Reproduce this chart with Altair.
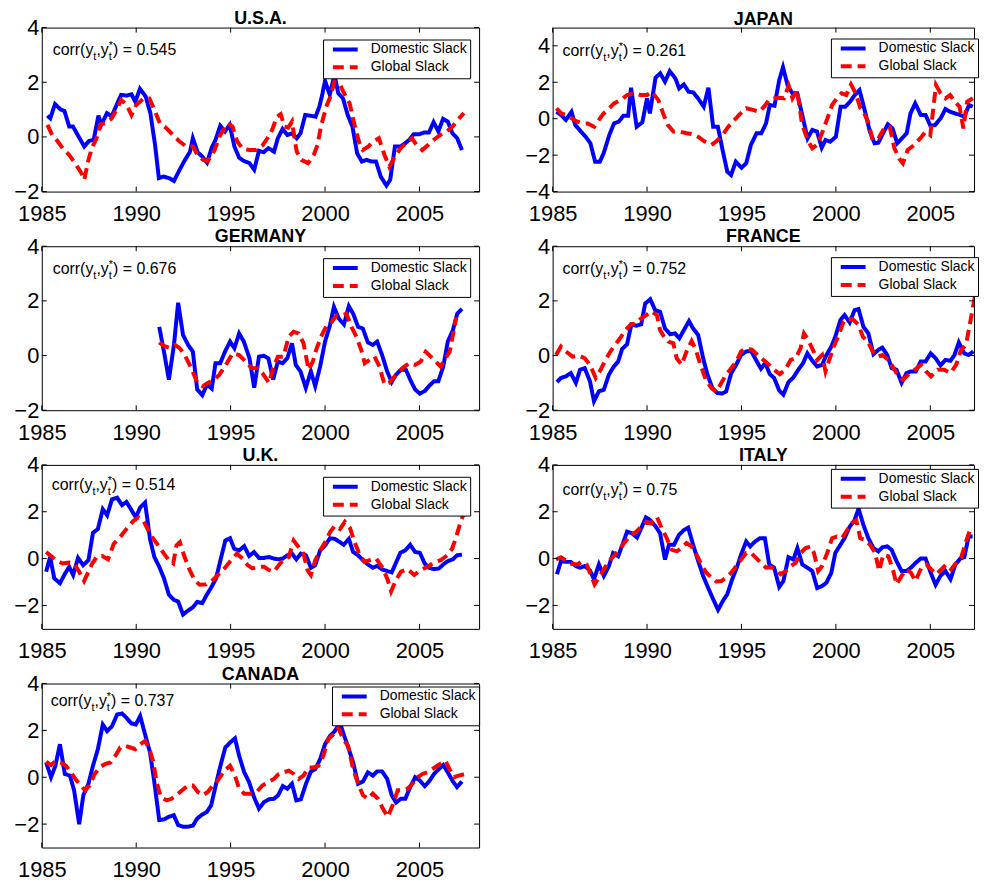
import altair as alt
import pandas as pd

FONT = "Liberation Sans"
SERIES = ["Domestic Slack", "Global Slack"]
COLORS = ["#0000ff", "#ff0000"]
DASHES = [[1, 0], [11, 6]]
YEARS = [1985, 1990, 1995, 2000, 2005]

USA_DOM = [(1985.3,0.78),(1985.45,0.68),(1985.7,1.2),(1986.0,1.0),(1986.2,0.95),(1986.45,0.38),(1986.65,0.38),(1987.0,-0.05),(1987.25,-0.35),(1987.5,-0.15),(1987.75,-0.1),(1988.0,0.78),(1988.15,0.44),(1988.45,0.87),(1988.7,0.75),(1989.0,1.23),(1989.2,1.54),(1989.5,1.51),(1989.75,1.56),(1989.95,1.29),(1990.2,1.76),(1990.5,1.48),(1990.75,0.87),(1991.0,-0.3),(1991.2,-1.51),(1991.45,-1.45),(1991.75,-1.51),(1992.0,-1.61),(1992.3,-1.2),(1992.55,-0.88),(1992.85,-0.54),(1993.0,-0.05),(1993.25,-0.56),(1993.5,-0.72),(1993.75,-0.94),(1994.0,-0.39),(1994.2,-0.11),(1994.45,0.41),(1994.7,0.2),(1994.95,0.44),(1995.2,-0.35),(1995.45,-0.76),(1995.7,-0.88),(1996.0,-0.96),(1996.25,-1.2),(1996.5,-0.51),(1996.75,-0.56),(1997.0,-0.41),(1997.3,-0.54),(1997.5,-0.05),(1997.75,0.29),(1998.0,0.07),(1998.25,0.13),(1998.5,-0.05),(1998.7,0.13),(1998.95,0.8),(1999.2,0.78),(1999.5,0.74),(1999.7,1.11),(1999.85,1.54),(2000.0,2.05),(2000.25,1.54),(2000.5,2.27),(2000.7,1.6),(2000.95,1.41),(2001.2,0.8),(2001.45,0.38),(2001.7,-0.6),(2001.95,-0.9),(2002.2,-0.84),(2002.45,-0.9),(2002.7,-0.9),(2002.95,-1.45),(2003.25,-1.78),(2003.45,-1.57),(2003.7,-0.35),(2004.0,-0.35),(2004.25,-0.23),(2004.45,-0.11),(2004.7,0.1),(2005.0,0.1),(2005.25,0.16),(2005.5,0.16),(2005.75,0.54),(2006.0,0.2),(2006.25,0.66),(2006.5,0.56),(2006.75,0.13),(2007.0,-0.05),(2007.25,-0.48)]
USA_GLO = [(1985.3,0.44),(1985.55,0.07),(1985.85,-0.17),(1986.1,-0.41),(1986.45,-0.66),(1986.8,-1.0),(1987.1,-1.33),(1987.25,-1.57),(1987.45,-0.9),(1987.65,-0.41),(1987.9,-0.05),(1988.1,0.46),(1988.35,0.5),(1988.7,0.68),(1989.0,1.05),(1989.2,1.35),(1989.5,1.17),(1989.75,0.8),(1990.0,1.17),(1990.4,1.41),(1990.7,1.41),(1991.0,0.93),(1991.25,0.5),(1991.6,0.32),(1991.95,0.07),(1992.3,-0.17),(1992.65,-0.35),(1993.0,-0.35),(1993.25,-0.66),(1993.55,-0.84),(1993.8,-0.88),(1994.15,-0.48),(1994.45,0.07),(1994.85,0.5),(1995.1,0.38),(1995.35,-0.17),(1995.65,-0.44),(1996.0,-0.48),(1996.35,-0.48),(1996.7,-0.3),(1996.95,-0.05),(1997.2,0.26),(1997.45,0.74),(1997.65,0.83),(1997.85,0.38),(1998.05,0.34),(1998.25,0.56),(1998.5,-0.54),(1998.75,-0.84),(1999.1,-0.96),(1999.4,-0.66),(1999.6,-0.3),(1999.8,0.44),(2000.1,1.17),(2000.25,1.41),(2000.5,2.02),(2000.8,1.9),(2001.05,1.54),(2001.3,1.23),(2001.6,0.32),(2001.85,-0.3),(2002.0,-0.48),(2002.3,-0.35),(2002.55,-0.17),(2002.85,-0.05),(2003.15,-0.66),(2003.4,-1.09),(2003.65,-0.78),(2004.0,-0.41),(2004.3,-0.23),(2004.6,-0.05),(2004.85,-0.3),(2005.15,-0.48),(2005.45,-0.3),(2005.75,-0.11),(2006.1,0.07),(2006.45,0.2),(2006.75,0.38),(2007.1,0.68),(2007.35,0.87)]

JPN_DOM = [(1985.2,0.38),(1985.45,0.2),(1985.7,-0.07),(1986.0,0.38),(1986.2,-0.35),(1986.5,-0.71),(1986.75,-0.99),(1987.0,-1.35),(1987.25,-2.36),(1987.5,-2.36),(1987.7,-1.9),(1988.0,-0.9),(1988.25,-0.26),(1988.5,-0.16),(1988.75,0.16),(1989.0,0.16),(1989.15,1.7),(1989.45,-0.44),(1989.75,-0.2),(1990.0,1.12),(1990.15,0.29),(1990.45,2.25),(1990.7,2.49),(1990.95,2.03),(1991.2,2.61),(1991.5,2.21),(1991.7,1.66),(1991.95,1.88),(1992.2,1.48),(1992.45,1.44),(1992.7,1.12),(1993.0,0.66),(1993.25,1.7),(1993.5,-0.44),(1993.75,-0.44),(1994.0,-1.72),(1994.25,-2.91),(1994.45,-3.09),(1994.7,-2.36),(1995.0,-2.69),(1995.25,-2.45),(1995.5,-1.44),(1995.8,-0.8),(1996.05,-0.8),(1996.3,-0.26),(1996.5,0.75),(1996.75,0.71),(1997.0,2.12),(1997.2,2.82),(1997.45,1.81),(1997.7,1.39),(1997.95,1.39),(1998.2,0.29),(1998.5,-1.08),(1998.75,-0.62),(1999.0,-0.71),(1999.25,-1.59),(1999.45,-1.17),(1999.7,-1.26),(2000.0,-0.99),(2000.25,0.66),(2000.5,0.66),(2000.75,0.93),(2001.0,1.3),(2001.25,1.57),(2001.5,0.57),(2001.8,-0.71),(2002.05,-1.35),(2002.25,-1.32),(2002.5,-0.8),(2002.75,-0.31),(2003.0,-0.53),(2003.25,-1.35),(2003.5,-1.08),(2003.75,-0.8),(2003.95,0.29),(2004.2,0.84),(2004.5,0.2),(2004.75,0.2),(2005.0,-0.38),(2005.25,-0.35),(2005.55,0.02),(2005.8,0.53),(2006.05,0.38),(2006.3,0.29),(2006.6,0.2),(2006.8,0.11),(2007.05,0.75),(2007.25,0.66)]
JPN_GLO = [(1985.2,0.57),(1985.45,0.29),(1985.7,0.2),(1986.0,0.02),(1986.3,-0.16),(1986.6,-0.26),(1986.85,-0.26),(1987.2,-0.44),(1987.45,-0.07),(1987.7,0.29),(1988.0,0.57),(1988.25,0.84),(1988.6,1.02),(1988.95,1.3),(1989.3,1.39),(1989.65,1.3),(1990.0,1.3),(1990.25,1.48),(1990.6,1.02),(1990.85,0.29),(1991.1,-0.35),(1991.4,-0.71),(1991.75,-0.71),(1992.1,-0.8),(1992.45,-0.86),(1992.7,-0.99),(1993.05,-1.26),(1993.4,-1.44),(1993.65,-1.26),(1994.0,-0.9),(1994.3,-0.44),(1994.55,-0.16),(1994.9,0.24),(1995.25,0.57),(1995.6,0.48),(1995.95,0.38),(1996.2,0.66),(1996.45,1.02),(1996.75,1.12),(1997.0,1.15),(1997.25,1.12),(1997.5,1.81),(1997.7,1.12),(1997.95,1.57),(1998.2,-0.26),(1998.5,-1.17),(1998.75,-1.63),(1999.0,-1.44),(1999.3,-0.71),(1999.55,0.02),(1999.8,0.75),(2000.05,1.12),(2000.3,1.39),(2000.55,1.3),(2000.8,1.88),(2001.05,1.39),(2001.3,0.57),(2001.5,0.29),(2001.7,-0.16),(2001.95,-1.17),(2002.25,-1.08),(2002.55,-0.53),(2002.85,-0.44),(2003.1,-1.63),(2003.35,-2.18),(2003.55,-2.45),(2003.8,-1.72),(2004.15,-1.44),(2004.5,-1.04),(2004.75,-0.71),(2005.0,-0.9),(2005.1,0.02),(2005.3,1.85),(2005.55,1.39),(2005.8,1.12),(2006.05,1.3),(2006.3,0.93),(2006.55,0.66),(2006.75,-0.53),(2006.95,0.93),(2007.25,1.12)]

GER_DOM = [(1991.22,1.05),(1991.47,0.14),(1991.73,-0.88),(1992.0,0.39),(1992.22,1.93),(1992.48,0.75),(1992.75,0.39),(1993.0,0.14),(1993.23,-1.24),(1993.5,-1.45),(1993.75,-1.06),(1994.0,-1.21),(1994.2,-0.28),(1994.45,-0.28),(1994.7,0.14),(1994.97,0.51),(1995.2,0.27),(1995.45,0.81),(1995.7,0.51),(1996.0,-0.1),(1996.25,-1.18),(1996.5,-0.04),(1996.75,-0.01),(1997.0,-0.1),(1997.25,-0.88),(1997.5,-0.22),(1997.75,-0.28),(1998.0,-0.1),(1998.25,0.45),(1998.45,-0.34),(1998.7,-0.58),(1998.98,-1.18),(1999.25,-0.58),(1999.48,-1.12),(1999.74,-0.4),(2000.0,0.51),(2000.26,1.11),(2000.47,1.78),(2000.73,1.35),(2001.0,1.14),(2001.26,1.81),(2001.49,1.53),(2001.75,1.05),(2002.0,0.99),(2002.27,0.48),(2002.53,0.39),(2002.76,0.51),(2003.02,0.02),(2003.29,-0.58),(2003.53,-0.97),(2003.76,-0.7),(2004.02,-0.52),(2004.28,-0.52),(2004.55,-0.94),(2004.77,-1.24),(2005.02,-1.39),(2005.28,-1.3),(2005.5,-1.12),(2005.77,-0.94),(2006.0,-0.94),(2006.26,-0.4),(2006.5,0.51),(2006.77,0.93),(2007.0,1.53),(2007.25,1.71)]
GER_GLO = [(1991.22,0.48),(1991.47,0.35),(1991.73,0.29),(1992.05,0.39),(1992.3,0.27),(1992.57,0.02),(1992.83,-0.34),(1993.1,-0.76),(1993.23,-1.0),(1993.53,-1.12),(1993.8,-1.0),(1994.14,-0.88),(1994.4,-0.7),(1994.75,-0.34),(1995.1,0.08),(1995.45,0.02),(1995.8,-0.22),(1996.1,-0.46),(1996.42,-0.46),(1996.68,-0.64),(1997.03,-1.0),(1997.25,-0.46),(1997.5,-0.04),(1997.8,-0.04),(1998.07,0.69),(1998.33,0.87),(1998.6,0.81),(1998.86,0.45),(1999.13,-0.52),(1999.35,-0.22),(1999.56,0.27),(1999.83,0.75),(2000.09,1.11),(2000.35,1.23),(2000.61,1.47),(2000.87,1.47),(2001.13,1.53),(2001.4,1.05),(2001.66,0.69),(2001.92,0.2),(2002.1,-0.28),(2002.36,-0.16),(2002.62,-0.04),(2002.88,-0.4),(2003.15,-1.06),(2003.4,-1.0),(2003.76,-0.7),(2004.1,-0.46),(2004.46,-0.28),(2004.77,-0.34),(2005.07,-0.22),(2005.33,0.14),(2005.6,-0.04),(2005.86,-0.22),(2006.12,-0.4),(2006.38,-0.1),(2006.6,0.14),(2006.77,0.75),(2006.95,1.41)]

FRA_DOM = [(1985.23,-0.97),(1985.44,-0.82),(1985.7,-0.76),(1985.96,-0.64),(1986.23,-1.0),(1986.45,-0.52),(1986.7,-0.46),(1986.98,-0.95),(1987.19,-1.67),(1987.45,-1.31),(1987.71,-1.25),(1987.98,-0.7),(1988.24,-0.4),(1988.47,-0.22),(1988.68,0.24),(1988.94,0.41),(1989.17,1.14),(1989.43,1.09),(1989.69,1.14),(1989.9,1.9),(1990.17,2.06),(1990.43,1.66),(1990.69,1.6),(1990.95,0.99),(1991.22,0.78),(1991.48,0.81),(1991.71,0.63),(1991.95,0.93),(1992.22,1.26),(1992.44,0.99),(1992.71,0.75),(1992.97,-0.1),(1993.2,-0.7),(1993.46,-1.19),(1993.72,-1.37),(1993.98,-1.39),(1994.19,-1.31),(1994.46,-0.64),(1994.72,-0.34),(1994.98,0.02),(1995.25,0.15),(1995.51,0.17),(1995.77,-0.16),(1996.03,-0.48),(1996.26,-0.28),(1996.5,-0.68),(1996.73,-0.82),(1997.0,-1.28),(1997.22,-1.43),(1997.49,-0.97),(1997.75,-0.8),(1998.01,-0.52),(1998.26,-0.28),(1998.49,0.08),(1998.75,-0.19),(1999.01,-0.4),(1999.27,-0.34),(1999.5,0.02),(1999.76,0.33),(1999.97,0.69),(2000.24,1.3),(2000.46,1.48),(2000.73,1.21),(2000.99,1.66),(2001.2,1.7),(2001.46,1.05),(2001.72,0.81),(2001.99,0.05),(2002.25,0.21),(2002.46,0.29),(2002.72,0.02),(2002.95,-0.46),(2003.21,-0.52),(2003.48,-1.0),(2003.74,-0.64),(2003.97,-0.58),(2004.23,-0.58),(2004.49,-0.22),(2004.75,-0.22),(2005.02,0.08),(2005.28,-0.1),(2005.54,-0.36),(2005.8,-0.16),(2006.07,-0.19),(2006.28,0.02),(2006.51,0.48),(2006.8,0.08),(2007.03,0.02),(2007.28,0.15)]
FRA_GLO = [(1985.18,0.02),(1985.44,0.33),(1985.7,0.15),(1986.05,-0.04),(1986.4,0.0),(1986.7,-0.1),(1986.98,-0.34),(1987.28,-0.82),(1987.54,-0.52),(1987.8,-0.16),(1988.06,0.15),(1988.33,0.41),(1988.59,0.65),(1988.85,0.93),(1989.15,1.14),(1989.43,1.18),(1989.69,1.36),(1989.96,1.48),(1990.22,1.62),(1990.52,1.48),(1990.69,0.93),(1990.9,0.69),(1991.13,0.51),(1991.39,0.45),(1991.57,-0.1),(1991.83,-0.34),(1992.09,0.15),(1992.36,0.53),(1992.58,0.21),(1992.83,-0.34),(1993.11,-0.88),(1993.41,-1.19),(1993.67,-1.33),(1993.93,-1.0),(1994.19,-0.7),(1994.46,-0.46),(1994.72,-0.22),(1994.98,0.15),(1995.25,0.27),(1995.56,0.21),(1995.86,0.02),(1996.16,-0.16),(1996.47,-0.34),(1996.73,-0.52),(1997.03,-0.68),(1997.31,-0.52),(1997.61,-0.16),(1997.87,-0.1),(1998.13,0.27),(1998.31,0.81),(1998.54,0.57),(1998.78,0.21),(1999.01,-0.16),(1999.27,0.02),(1999.45,-0.58),(1999.62,-0.22),(1999.89,0.33),(2000.15,0.75),(2000.41,1.24),(2000.67,1.36),(2000.94,1.3),(2001.2,1.12),(2001.43,0.69),(2001.69,0.51),(2001.95,0.15),(2002.22,-0.04),(2002.46,0.02),(2002.78,-0.16),(2003.04,-0.44),(2003.3,-0.76),(2003.56,-0.88),(2003.83,-0.7),(2004.17,-0.52),(2004.52,-0.34),(2004.78,-0.58),(2005.04,-0.76),(2005.39,-0.52),(2005.74,-0.52),(2006.07,-0.64),(2006.37,-0.34),(2006.63,0.21),(2006.89,0.39),(2007.15,1.36),(2007.42,2.39)]

UK_DOM = [(1985.23,-0.56),(1985.44,0.07),(1985.66,-0.84),(1985.96,-1.05),(1986.19,-0.7),(1986.45,-0.35),(1986.66,-0.7),(1986.92,0.03),(1987.19,-0.28),(1987.47,-0.07),(1987.71,1.1),(1987.97,1.26),(1988.23,2.11),(1988.46,1.85),(1988.72,2.53),(1988.99,2.6),(1989.25,2.28),(1989.48,2.42),(1989.72,2.11),(1989.98,1.76),(1990.21,2.18),(1990.47,2.39),(1990.73,0.84),(1990.96,0.07),(1991.22,-0.35),(1991.47,-0.84),(1991.73,-1.54),(1991.99,-1.76),(1992.22,-1.83),(1992.48,-2.39),(1992.74,-2.22),(1993.0,-2.08),(1993.23,-1.85),(1993.5,-1.9),(1993.74,-1.54),(1993.97,-1.24),(1994.23,-0.84),(1994.46,-0.07),(1994.72,0.77),(1994.97,0.87),(1995.19,0.42),(1995.45,0.35),(1995.72,0.53),(1995.98,0.11),(1996.24,0.28),(1996.5,0.03),(1996.77,0.03),(1997.03,0.07),(1997.29,0.0),(1997.52,-0.03),(1997.76,0.0),(1998.0,0.14),(1998.25,0.21),(1998.48,-0.03),(1998.72,0.21),(1998.99,0.14),(1999.25,-0.39),(1999.48,-0.28),(1999.74,0.35),(2000.0,0.56),(2000.26,0.87),(2000.52,0.84),(2000.79,0.7),(2000.99,0.59),(2001.26,0.84),(2001.49,0.28),(2001.75,0.14),(2002.01,-0.07),(2002.27,-0.25),(2002.53,-0.39),(2002.76,-0.31),(2003.02,-0.46),(2003.29,-0.53),(2003.53,-0.59),(2003.76,-0.17),(2003.99,0.25),(2004.25,0.35),(2004.51,0.59),(2004.77,0.28),(2005.02,0.25),(2005.28,-0.21),(2005.51,-0.39),(2005.77,-0.45),(2006.03,-0.42),(2006.26,-0.25),(2006.5,-0.11),(2006.77,-0.03),(2006.99,0.14),(2007.25,0.17)]
UK_GLO = [(1985.23,0.28),(1985.49,0.11),(1985.75,-0.07),(1986.1,-0.21),(1986.45,-0.17),(1986.71,-0.21),(1986.98,-0.56),(1987.24,-0.96),(1987.47,-0.56),(1987.67,-0.21),(1987.94,0.11),(1988.2,0.11),(1988.51,-0.03),(1988.81,0.63),(1989.07,0.84),(1989.34,1.12),(1989.6,1.38),(1989.86,1.62),(1990.12,1.76),(1990.38,1.62),(1990.65,1.19),(1990.91,0.84),(1991.17,0.56),(1991.47,0.21),(1991.73,-0.07),(1991.96,-0.21),(1992.13,0.56),(1992.31,0.7),(1992.53,0.14),(1992.83,-0.49),(1993.09,-0.91),(1993.36,-1.12),(1993.71,-1.1),(1994.06,-0.91),(1994.41,-0.63),(1994.67,-0.42),(1995.02,-0.07),(1995.33,0.21),(1995.63,0.0),(1995.9,-0.28),(1996.15,-0.42),(1996.42,-0.35),(1996.77,-0.35),(1997.03,-0.49),(1997.29,-0.56),(1997.55,-0.28),(1997.81,-0.03),(1998.08,0.07),(1998.34,0.77),(1998.6,0.49),(1998.86,0.21),(1999.07,-0.49),(1999.25,-0.7),(1999.48,-0.07),(1999.74,0.35),(2000.0,0.7),(2000.26,1.12),(2000.52,1.4),(2000.79,1.26),(2001.05,1.57),(2001.31,1.33),(2001.57,0.7),(2001.84,0.14),(2002.1,-0.14),(2002.36,-0.07),(2002.71,0.0),(2003.06,-0.42),(2003.32,-0.91),(2003.5,-1.4),(2003.76,-0.91),(2004.02,-0.56),(2004.37,-0.45),(2004.72,-0.7),(2005.07,-0.49),(2005.42,-0.35),(2005.77,-0.17),(2006.12,-0.07),(2006.47,0.14),(2006.73,0.42),(2006.94,0.91),(2007.17,1.54),(2007.34,1.9)]

ITA_DOM = [(1985.23,-0.67),(1985.44,-0.11),(1985.7,-0.14),(1985.96,-0.14),(1986.23,-0.32),(1986.45,-0.39),(1986.7,-0.32),(1986.98,-0.51),(1987.19,-0.88),(1987.45,-0.25),(1987.71,-0.74),(1987.98,-0.32),(1988.2,0.24),(1988.47,0.1),(1988.73,0.66),(1988.94,1.15),(1989.2,1.08),(1989.47,0.9),(1989.69,1.29),(1989.94,1.76),(1990.17,1.64),(1990.43,1.4),(1990.69,1.08),(1990.95,-0.04),(1991.16,0.59),(1991.43,0.59),(1991.69,1.01),(1991.95,1.22),(1992.18,1.32),(1992.44,0.59),(1992.71,-0.11),(1992.97,-0.74),(1993.23,-1.24),(1993.46,-1.66),(1993.76,-2.19),(1994.02,-1.8),(1994.25,-1.52),(1994.51,-0.88),(1994.75,-0.39),(1994.98,0.17),(1995.25,0.73),(1995.46,0.52),(1995.72,0.73),(1995.98,0.87),(1996.24,0.87),(1996.47,-0.25),(1996.73,-0.39),(1997.0,-1.21),(1997.22,-0.96),(1997.49,0.06),(1997.75,-0.04),(1997.96,0.45),(1998.22,-0.25),(1998.49,-0.39),(1998.75,-0.53),(1999.01,-1.26),(1999.27,-1.17),(1999.5,-1.03),(1999.76,-0.6),(1999.97,0.24),(2000.24,0.59),(2000.46,0.87),(2000.73,1.36),(2000.99,1.64),(2001.2,2.13),(2001.46,1.43),(2001.72,0.87),(2001.99,0.45),(2002.25,0.31),(2002.46,0.48),(2002.72,0.52),(2002.95,0.38),(2003.21,-0.11),(2003.48,-0.53),(2003.74,-0.53),(2003.97,-0.39),(2004.23,-0.18),(2004.49,0.0),(2004.75,0.0),(2005.02,-0.6),(2005.28,-1.12),(2005.54,-0.74),(2005.8,-0.53),(2006.07,-0.88),(2006.33,-0.25),(2006.59,0.0),(2006.8,0.06),(2007.03,0.94),(2007.24,0.94)]
ITA_GLO = [(1985.18,-0.04),(1985.44,0.06),(1985.7,-0.08),(1986.0,-0.22),(1986.31,-0.25),(1986.52,-0.14),(1986.8,-0.25),(1987.01,-0.67),(1987.22,-1.1),(1987.45,-0.81),(1987.71,-0.46),(1987.98,-0.11),(1988.27,0.14),(1988.59,0.45),(1988.85,0.73),(1989.15,1.01),(1989.43,1.15),(1989.69,1.36),(1989.96,1.57),(1990.2,1.5),(1990.52,1.78),(1990.78,1.29),(1991.04,0.87),(1991.3,0.38),(1991.57,0.31),(1991.83,0.45),(1992.09,0.66),(1992.36,0.52),(1992.62,0.17),(1992.88,-0.25),(1993.14,-0.6),(1993.41,-0.81),(1993.67,-0.98),(1993.93,-0.96),(1994.19,-0.81),(1994.46,-0.6),(1994.72,-0.32),(1994.98,-0.04),(1995.25,0.24),(1995.51,0.24),(1995.77,0.03),(1996.03,-0.18),(1996.3,-0.39),(1996.56,-0.37),(1996.82,-0.46),(1997.08,-0.67),(1997.35,-0.53),(1997.61,-0.32),(1997.87,-0.18),(1998.13,0.24),(1998.4,0.45),(1998.66,0.52),(1998.84,0.24),(1999.06,-0.53),(1999.27,-0.32),(1999.54,0.24),(1999.8,0.87),(2000.05,0.94),(2000.32,0.87),(2000.55,1.15),(2000.81,1.5),(2001.08,1.64),(2001.29,0.87),(2001.55,0.8),(2001.81,0.59),(2002.08,0.24),(2002.29,-0.53),(2002.51,0.17),(2002.78,0.1),(2003.04,-0.53),(2003.21,-1.1),(2003.48,-0.74),(2003.74,-0.46),(2003.97,-0.6),(2004.21,-0.96),(2004.53,-0.39),(2004.79,-0.25),(2005.05,-0.46),(2005.32,-0.67),(2005.58,-0.46),(2005.84,-0.25),(2006.1,-0.46),(2006.37,-0.18),(2006.63,0.03),(2006.89,0.73),(2007.07,1.15)]

CAN_DOM = [(1985.23,0.63),(1985.49,0.0),(1985.72,0.49),(1985.96,1.41),(1986.22,0.14),(1986.49,0.07),(1986.71,-0.56),(1986.98,-2.0),(1987.2,-0.77),(1987.47,-0.28),(1987.71,0.49),(1987.97,1.2),(1988.23,2.25),(1988.46,1.97),(1988.72,2.18),(1988.99,2.68),(1989.25,2.72),(1989.48,2.54),(1989.74,2.3),(1989.98,2.25),(1990.21,2.61),(1990.47,1.83),(1990.73,1.06),(1990.96,-0.21),(1991.22,-1.83),(1991.47,-1.8),(1991.73,-1.69),(1991.99,-1.62),(1992.22,-2.04),(1992.48,-2.11),(1992.74,-2.11),(1993.0,-2.07),(1993.23,-1.76),(1993.5,-1.59),(1993.74,-1.48),(1993.97,-1.2),(1994.23,-0.28),(1994.46,0.49),(1994.72,1.27),(1994.97,1.48),(1995.23,1.66),(1995.45,0.92),(1995.72,0.21),(1995.98,-0.21),(1996.24,-0.85),(1996.5,-1.34),(1996.77,-1.06),(1997.03,-0.94),(1997.29,-0.92),(1997.52,-0.77),(1997.76,-0.38),(1998.0,-0.49),(1998.25,-0.28),(1998.48,-0.99),(1998.72,-0.94),(1998.99,-0.28),(1999.25,0.24),(1999.48,0.35),(1999.74,0.77),(2000.0,1.41),(2000.26,1.76),(2000.52,1.97),(2000.79,2.32),(2000.99,1.83),(2001.26,1.2),(2001.49,0.63),(2001.75,-0.28),(2002.01,-0.18),(2002.27,0.21),(2002.53,0.07),(2002.76,0.25),(2003.02,0.25),(2003.29,-0.07),(2003.53,-0.77),(2003.76,-1.08),(2004.02,-0.92),(2004.25,-0.92),(2004.51,-0.42),(2004.77,0.0),(2005.02,-0.14),(2005.28,-0.38),(2005.51,-0.18),(2005.77,0.14),(2006.03,0.35),(2006.26,0.52),(2006.5,0.21),(2006.77,-0.18),(2006.99,-0.42),(2007.25,-0.18)]
CAN_GLO = [(1985.23,0.66),(1985.49,0.52),(1985.75,0.7),(1986.01,0.63),(1986.28,0.49),(1986.54,0.21),(1986.8,-0.1),(1987.06,-0.35),(1987.29,-0.56),(1987.53,-0.35),(1987.8,0.14),(1988.06,0.42),(1988.34,0.56),(1988.64,0.63),(1988.9,0.92),(1989.16,1.27),(1989.42,1.34),(1989.69,1.27),(1989.95,1.2),(1990.21,1.41),(1990.47,1.55),(1990.73,1.13),(1990.91,0.63),(1991.08,-0.21),(1991.31,-0.85),(1991.61,-0.99),(1991.87,-0.92),(1992.13,-0.77),(1992.43,-0.56),(1992.74,-0.35),(1993.0,-0.35),(1993.27,-0.63),(1993.53,-0.77),(1993.79,-0.63),(1994.06,-0.35),(1994.32,-0.14),(1994.67,0.28),(1994.97,0.49),(1995.23,0.07),(1995.45,-0.49),(1995.72,-0.7),(1996.07,-0.7),(1996.38,-0.63),(1996.68,-0.35),(1996.98,-0.21),(1997.29,-0.07),(1997.55,0.14),(1997.81,0.21),(1998.08,0.28),(1998.34,0.14),(1998.6,-0.07),(1998.86,0.07),(1999.13,0.42),(1999.39,0.42),(1999.65,0.49),(1999.91,0.92),(2000.17,1.62),(2000.43,1.83),(2000.7,2.11),(2000.96,1.62),(2001.22,1.34),(2001.49,0.35),(2001.75,-0.28),(2002.01,-0.77),(2002.27,-0.92),(2002.53,-0.7),(2002.8,-0.92),(2003.06,-1.34),(2003.32,-1.69),(2003.58,-1.2),(2003.85,-0.56),(2004.11,-0.56),(2004.37,-0.49),(2004.63,-0.28),(2004.9,0.0),(2005.16,0.14),(2005.42,0.21),(2005.68,0.35),(2005.94,0.49),(2006.21,0.63),(2006.38,0.7),(2006.59,0.35),(2006.82,0.0),(2007.08,0.07),(2007.43,0.14)]

W_L, W_R, H = 440, 424, 165
PX_PER_YEAR = 19.0


def make_panel(title, dom, glob, corr, ydom, yticks, width, leg_xy, ann_xy, title_offset=-11):
    df = pd.concat([
        pd.DataFrame(dom, columns=["t", "v"]).assign(s=SERIES[0]),
        pd.DataFrame(glob, columns=["t", "v"]).assign(s=SERIES[1]),
    ], ignore_index=True)
    xdom = [1985, 1985 + width / PX_PER_YEAR]
    x = alt.X("t:Q", scale=alt.Scale(domain=xdom, nice=False, zero=False),
              axis=alt.Axis(values=YEARS, format="d", title=None, grid=False, ticks=False,
                            domain=False, labelFont=FONT, labelFontSize=22, labelColor="black",
                            labelPadding=12, labelFlush=False, labelOverlap=False))
    y = alt.Y("v:Q", scale=alt.Scale(domain=ydom, nice=False, zero=False),
              axis=alt.Axis(values=yticks, title=None, grid=False, ticks=False, domain=False,
                            labelFont=FONT, labelFontSize=22, labelColor="black",
                            labelPadding=3, labelOverlap=False))
    legend = alt.Legend(title=None, orient="none", legendX=leg_xy[0], legendY=leg_xy[1],
                        symbolType="M-1,0H7", symbolSize=39, symbolStrokeWidth=4,
                        symbolOffset=3, labelOffset=28, labelFont=FONT, labelFontSize=14,
                        labelColor="black", padding=3, rowPadding=2,
                        strokeColor="black", fillColor="white")
    lines = alt.Chart(df).mark_line(strokeWidth=4, clip=True).encode(
        x=x, y=y,
        color=alt.Color("s:N", scale=alt.Scale(domain=SERIES, range=COLORS), legend=legend),
        strokeDash=alt.StrokeDash("s:N", scale=alt.Scale(domain=SERIES, range=DASHES), legend=legend),
    )
    ydf = pd.DataFrame({"v": yticks})
    xdf = pd.DataFrame({"t": YEARS})
    tk = dict(color="black", strokeWidth=1)
    yl = alt.Chart(ydf).mark_rule(**tk).encode(y=y, x=alt.value(0), x2=alt.value(5))
    yr = alt.Chart(ydf).mark_rule(**tk).encode(y=y, x=alt.value(width - 5), x2=alt.value(width))
    xb = alt.Chart(xdf).mark_rule(**tk).encode(x=x, y=alt.value(H - 5), y2=alt.value(H))
    xt = alt.Chart(xdf).mark_rule(**tk).encode(x=x, y=alt.value(0), y2=alt.value(5))

    adf = pd.DataFrame({"c": [corr]})
    ax, ay = ann_xy
    parts = [("corr(y", 0, 0, 16), ("t", 40.9, 5, 11), (",y", 44.0, 0, 16),
             ("t", 56.4, 5, 11), ("*", 56.4, -6, 11)]
    texts = [alt.Chart(adf).mark_text(align="left", baseline="alphabetic", font=FONT,
                                      fontSize=fs, color="black")
             .encode(x=alt.value(ax + dx), y=alt.value(ay + dy), text=alt.value(s))
             for s, dx, dy, fs in parts]
    texts.append(alt.Chart(adf).transform_calculate(lbl="') = ' + datum.c")
                 .mark_text(align="left", baseline="alphabetic", font=FONT, fontSize=16, color="black")
                 .encode(x=alt.value(ax + 60.7), y=alt.value(ay), text="lbl:N"))

    return alt.layer(lines, yl, yr, xb, xt, *texts).properties(
        width=width, height=H,
        title=alt.TitleParams(title, font=FONT, fontSize=18, fontWeight="bold", color="black",
                              offset=title_offset, frame="group", anchor="middle"))


usa = make_panel("U.S.A.", USA_DOM, USA_GLO, 0.545, [-2, 4], [-2, 0, 2, 4], W_L, (283, 12), (11, 28))
jpn = make_panel("JAPAN", JPN_DOM, JPN_GLO, 0.261, [-4, 5], [-4, -2, 0, 2, 4], W_R, (280, 11), (10, 29), title_offset=-2)
ger = make_panel("GERMANY", GER_DOM, GER_GLO, 0.676, [-2, 4], [-2, 0, 2, 4], W_L, (283, 12), (11, 28))
fra = make_panel("FRANCE", FRA_DOM, FRA_GLO, 0.752, [-2, 4], [-2, 0, 2, 4], W_R, (280, 11), (10, 28))
uk = make_panel("U.K.", UK_DOM, UK_GLO, 0.514, [-3, 4], [-2, 0, 2, 4], W_L, (283, 12), (10, 25))
ita = make_panel("ITALY", ITA_DOM, ITA_GLO, 0.75, [-3, 4], [-2, 0, 2, 4], W_R, (280, 4), (10, 30))
can = make_panel("CANADA", CAN_DOM, CAN_GLO, 0.737, [-3, 4], [-2, 0, 2, 4], W_L, (292, 3), (9, 23))


def row(*charts):
    return alt.hconcat(*charts, spacing=44).resolve_scale(
        color="independent", strokeDash="independent").resolve_legend(
        color="independent", strokeDash="independent")


chart = alt.vconcat(row(usa, jpn), row(ger, fra), row(uk, ita), row(can), spacing=2).resolve_scale(
    color="independent", strokeDash="independent").resolve_legend(
    color="independent", strokeDash="independent").properties(
    padding={"left": 5, "top": -2, "right": 0, "bottom": 0}, background="white"
).configure_view(stroke="black", strokeWidth=1)

chart.save("out.html", embed_options={"renderer": "svg", "actions": False})
